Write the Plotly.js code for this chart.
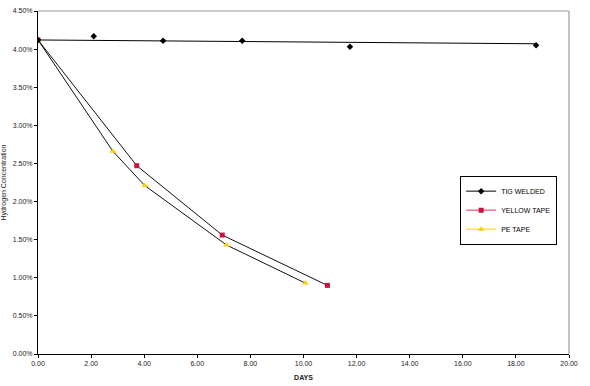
<!DOCTYPE html>
<html>
<head>
<meta charset="utf-8">
<script src="https://cdn.plot.ly/plotly-3.0.1.min.js"></script>
<style>html,body{margin:0;padding:0;background:#fff;}#chart{width:590px;height:386px;}</style>
</head>
<body>
<div id="chart"></div>
<script>
// TIG WELDED measurements (days, % hydrogen)
const tigDays = [0, 2.1, 4.71, 7.69, 11.75, 18.76];
const tigConc = [4.12, 4.17, 4.11, 4.11, 4.03, 4.05];
// TIG trend line as drawn (endpoints)
const tigTrendDays = [0, 18.76];
const tigTrendConc = [4.12, 4.07];
// YELLOW TAPE
const yellowDays = [0, 3.72, 6.94, 10.9];
const yellowConc = [4.12, 2.47, 1.56, 0.90];
// PE TAPE
const peDays = [0, 2.82, 4.02, 7.1, 10.07];
const peConc = [4.12, 2.66, 2.21, 1.43, 0.93];
// axis ticks
const xTicks = [0, 2, 4, 6, 8, 10, 12, 14, 16, 18, 20];
const yTicks = [0, 0.5, 1, 1.5, 2, 2.5, 3, 3.5, 4, 4.5];

const pct = v => v.toFixed(2) + '%';

const traces = [
  {x: tigTrendDays, y: tigTrendConc, mode: 'lines', line: {color: '#000', width: 1}, showlegend: false, hoverinfo: 'skip'},
  {x: yellowDays, y: yellowConc, mode: 'lines+markers', line: {color: '#111', width: 1},
   marker: {symbol: 'square', size: 5, color: '#cc1040'}, showlegend: false},
  {x: peDays, y: peConc, mode: 'lines+markers', line: {color: '#111', width: 1},
   marker: {symbol: 'triangle-up', size: 6, color: '#ffd000'}, showlegend: false},
  {x: tigDays, y: tigConc, mode: 'markers', marker: {symbol: 'diamond', size: 5, color: '#000'}, showlegend: false},
  // legend entries
  {x: [null], y: [null], mode: 'lines+markers', name: 'TIG WELDED', line: {color: '#000', width: 1},
   marker: {symbol: 'diamond', size: 5, color: '#000'}},
  {x: [null], y: [null], mode: 'lines+markers', name: 'YELLOW TAPE', line: {color: '#e03060', width: 1},
   marker: {symbol: 'square', size: 5, color: '#cc1040'}},
  {x: [null], y: [null], mode: 'lines+markers', name: 'PE TAPE', line: {color: '#ffd000', width: 1},
   marker: {symbol: 'triangle-up', size: 6, color: '#ffd000'}}
];

const tickFont = {family: 'Liberation Sans, Arial, sans-serif', size: 7, color: '#222'};

const layout = {
  width: 590, height: 386,
  margin: {l: 38, r: 21, t: 11, b: 32},
  paper_bgcolor: '#fff', plot_bgcolor: '#fff',
  showlegend: true,
  legend: {x: 0.795, y: 0.52, xanchor: 'left', yanchor: 'top', bgcolor: '#fff',
           bordercolor: '#000', borderwidth: 1, tracegroupgap: 0,
           font: {family: 'Liberation Sans, Arial, sans-serif', size: 7, color: '#000'}, itemwidth: 30},
  xaxis: {
    range: [0, 20], tickvals: xTicks, ticktext: xTicks.map(v => v.toFixed(2)),
    showgrid: false, zeroline: false, showline: true, linecolor: '#000', linewidth: 1,
    ticks: 'outside', ticklen: 3, tickcolor: '#000', tickfont: tickFont, mirror: false,
    title: {text: '<b>DAYS</b>', font: {family: 'Liberation Sans, Arial, sans-serif', size: 7, color: '#222'}, standoff: 8}
  },
  yaxis: {
    range: [0, 4.5], tickvals: yTicks, ticktext: yTicks.map(pct),
    showgrid: false, zeroline: false, showline: true, linecolor: '#000', linewidth: 1,
    ticks: 'outside', ticklen: 3, tickcolor: '#000', tickfont: tickFont,
    title: {text: 'Hydrogen Concentration', font: {family: 'Liberation Sans, Arial, sans-serif', size: 7, color: '#222'}, standoff: 6}
  },
  shapes: [
    {type: 'line', xref: 'paper', yref: 'paper', x0: 0, x1: 1, y0: 1, y1: 1, line: {color: '#999', width: 1}},
    {type: 'line', xref: 'paper', yref: 'paper', x0: 1, x1: 1, y0: 0, y1: 1, line: {color: '#888', width: 1}}
  ]
};

Plotly.newPlot('chart', traces, layout, {displayModeBar: false, staticPlot: true});
</script>
</body>
</html>
